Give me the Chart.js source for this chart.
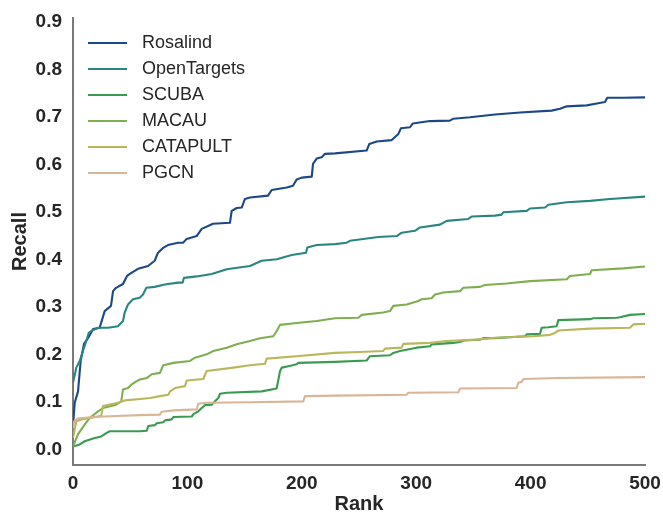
<!DOCTYPE html>
<html><head><meta charset="utf-8">
<script src="https://cdn.jsdelivr.net/npm/chart.js@4/dist/chart.umd.min.js"></script>
<style>html,body{margin:0;padding:0;background:#fff}#wrap{width:663px;height:514px}</style>
</head><body><div id="wrap"><canvas id="c" width="663" height="514"></canvas></div>
<script>
const seriesNames = ['Rosalind','OpenTargets','SCUBA','MACAU','CATAPULT','PGCN'];

const rosalindRank = [0,1.5,4.4,6.7,9.6,13.1,17.5,23.3,27.7,33.2,35,37.6,43.7,47.2,50.7,56.8,65.6,71.4,74.3,78.7,83,91.8,96.2,99.4,108.1,112.5,122.4,137.2,138.7,143.1,147.5,150.3,154.7,170.5,173.7,186.8,192.3,195.5,199.9,208.7,209.8,213,217.4,220.3,229,256.7,259,265.5,278.6,284.4,286.7,294.6,297,312,329.5,332.4,347,368.9,390.7,418.4,425.7,431.6,449,457.8,465,467,481,500];
const rosalindRecall = [0.05,0.098,0.122,0.186,0.222,0.234,0.253,0.256,0.291,0.302,0.333,0.340,0.348,0.365,0.371,0.380,0.386,0.397,0.414,0.424,0.430,0.435,0.435,0.443,0.449,0.464,0.475,0.477,0.502,0.508,0.509,0.527,0.530,0.534,0.546,0.551,0.555,0.568,0.572,0.574,0.601,0.612,0.615,0.622,0.623,0.629,0.643,0.648,0.651,0.664,0.676,0.678,0.686,0.691,0.692,0.696,0.699,0.705,0.709,0.713,0.717,0.722,0.724,0.728,0.731,0.740,0.740,0.741];

const openTargetsRank = [0,2.9,5.9,8.7,11.6,13.7,16,21.9,30.6,39.3,43.7,45.2,48.1,52.4,58.3,61.2,64.1,71.4,80.2,91.8,95.9,97,108.1,121.2,134.4,154.7,164.9,178.1,191.2,203.7,204.8,213,229,239.2,242.1,266.9,283,287.3,298.9,303.3,320.8,326.7,345.5,348.5,368.9,374.7,376.1,396.6,399.5,412.6,415.5,431.6,451.9,469.4,500];
const openTargetsRecall = [0.140,0.172,0.186,0.207,0.228,0.245,0.249,0.256,0.256,0.259,0.270,0.288,0.305,0.316,0.319,0.326,0.340,0.342,0.347,0.351,0.351,0.361,0.364,0.369,0.379,0.386,0.397,0.400,0.409,0.414,0.425,0.430,0.432,0.435,0.439,0.447,0.449,0.456,0.460,0.467,0.473,0.481,0.485,0.490,0.492,0.494,0.499,0.502,0.507,0.509,0.515,0.520,0.523,0.527,0.532];

const scubaRank = [0,5.7,10.2,19,24.7,29.1,32.1,58.6,64.4,65.8,71.7,73.2,78.9,80.4,86.3,87.7,103.8,105.2,109.5,112.5,115.4,121.2,124.1,127,128.5,134.4,165,178,181,182.4,188.2,195.5,196.9,229,256.7,259.6,277.1,280,285.8,300.4,312.1,313.5,332.4,338.3,341.2,355.8,358.7,368.9,395.1,396.6,408.2,409.7,415.5,422.8,424.2,451.9,454.8,475.3,478.1,486.9,500];
const scubaRecall = [0.006,0.010,0.017,0.024,0.027,0.034,0.038,0.038,0.039,0.049,0.051,0.055,0.057,0.061,0.063,0.068,0.069,0.074,0.080,0.087,0.093,0.094,0.101,0.108,0.117,0.119,0.122,0.128,0.165,0.172,0.175,0.179,0.182,0.184,0.187,0.196,0.198,0.203,0.207,0.214,0.217,0.221,0.224,0.226,0.229,0.231,0.234,0.234,0.238,0.242,0.243,0.256,0.257,0.259,0.272,0.274,0.276,0.277,0.278,0.283,0.285];

const macauRank = [0,4.4,10.2,14.6,21.9,26.2,37.8,42.2,43.7,48.1,51,55.3,58.6,64.4,68.8,76,78.9,87.7,102.3,106.6,116.9,122.6,134.4,143.1,154.7,163.5,175.1,178.1,180.9,195.5,213,229,249.4,252.4,271.2,277.1,280,291.7,301.8,304.8,313.5,316.4,323.7,338.3,341.2,355.8,360.1,379.1,399.5,431.6,434.4,451.9,453.4,481,500];
const macauRecall = [0.006,0.032,0.052,0.066,0.080,0.087,0.094,0.101,0.126,0.129,0.136,0.143,0.147,0.150,0.158,0.161,0.177,0.182,0.186,0.193,0.200,0.207,0.214,0.221,0.228,0.234,0.238,0.249,0.262,0.266,0.270,0.276,0.277,0.283,0.288,0.291,0.302,0.305,0.312,0.316,0.318,0.326,0.330,0.333,0.340,0.342,0.346,0.349,0.354,0.358,0.365,0.369,0.377,0.381,0.385];

const catapultRank = [0,2.9,7.3,24.7,26.2,39.3,45.2,58.6,67.3,76,83.3,84.8,89.2,97.9,99.4,113.9,116.9,140.1,154.7,167.8,169.3,195.5,229,250.9,271.2,272.7,287.3,288.7,312.1,326.7,352.9,368.9,402.4,417,421.3,424.2,451.9,486.9,489.8,500];
const catapultRecall = [0.024,0.059,0.063,0.070,0.091,0.098,0.103,0.106,0.108,0.112,0.115,0.122,0.129,0.133,0.145,0.148,0.165,0.172,0.177,0.180,0.191,0.196,0.203,0.205,0.207,0.212,0.214,0.222,0.224,0.228,0.231,0.235,0.238,0.241,0.245,0.250,0.254,0.256,0.263,0.264];

const pgcnRank = [0,1.1,4.1,17.2,37.6,58.6,76,77.5,87.7,108.1,109.5,116.9,154.7,201.3,202.8,229,291.7,293.1,336.8,338.3,387.8,389.2,392.2,393.6,422.8,500];
const pgcnRecall = [0.045,0.059,0.065,0.068,0.070,0.072,0.073,0.079,0.082,0.084,0.096,0.098,0.099,0.101,0.112,0.113,0.115,0.119,0.120,0.128,0.129,0.140,0.142,0.148,0.150,0.152];

const xTickValues = [0,100,200,300,400,500];
const xTickLabels = ['0','100','200','300','400','500'];
const yTickValues = [0,0.1,0.2,0.3,0.4,0.5,0.6,0.7,0.8,0.9];
const yTickLabels = ['0.0','0.1','0.2','0.3','0.4','0.5','0.6','0.7','0.8','0.9'];

const seriesRanks = [rosalindRank, openTargetsRank, scubaRank, macauRank, catapultRank, pgcnRank];
const seriesRecalls = [rosalindRecall, openTargetsRecall, scubaRecall, macauRecall, catapultRecall, pgcnRecall];
const seriesColors = ['#1b4886','#2a8580','#3a9a52','#7fae50','#b9b65c','#d8b596'];

const TXT = '#262626';
const FAMILY = "'Liberation Sans', Arial, sans-serif";
Chart.defaults.font.family = FAMILY;

function swatch(color) {
  const cv = document.createElement('canvas');
  cv.width = 45; cv.height = 4;
  const g = cv.getContext('2d');
  g.strokeStyle = color; g.lineWidth = 2;
  g.beginPath(); g.moveTo(0, 2); g.lineTo(39, 2); g.stroke();
  return cv;
}

const datasets = seriesNames.map((name, i) => ({
  label: name,
  data: seriesRanks[i].map((r, k) => ({x: r, y: seriesRecalls[i][k]})),
  borderColor: seriesColors[i],
  backgroundColor: seriesColors[i],
  borderWidth: 2.1,
  pointRadius: 0,
  tension: 0,
  fill: false,
  borderJoinStyle: 'round',
  order: seriesNames.length - i
}));

const legendShift = {
  id: 'legendShift',
  afterLayout(chart) {
    const l = chart.legend;
    if (!l) return;
    const ca = chart.chartArea;
    const w = l.width, h = l.height;
    l.left = ca.left + 7; l.right = l.left + w;
    l.top = ca.top + 8; l.bottom = l.top + h;
  }
};

function zeroPad(s) { s.paddingLeft = 0; s.paddingRight = 0; s.paddingTop = 0; s.paddingBottom = 0; }

new Chart(document.getElementById('c'), {
  type: 'line',
  data: { datasets },
  plugins: [legendShift],
  options: {
    responsive: false,
    devicePixelRatio: 1,
    animation: false,
    layout: { padding: { top: 18, right: 18, left: 0, bottom: 0 } },
    plugins: {
      tooltip: { enabled: false },
      legend: {
        position: 'chartArea',
        align: 'start',
        labels: {
          usePointStyle: true,
          pointStyleWidth: 45,
          padding: 8,
          color: TXT,
          font: { size: 18, family: FAMILY },
          generateLabels(chart) {
            return chart.data.datasets.map((ds, i) => ({
              text: ds.label,
              fillStyle: ds.borderColor,
              strokeStyle: ds.borderColor,
              lineWidth: 0,
              pointStyle: swatch(ds.borderColor),
              hidden: !chart.isDatasetVisible(i),
              datasetIndex: i,
              fontColor: TXT
            }));
          }
        }
      }
    },
    scales: {
      x: {
        type: 'linear',
        min: 0, max: 500,
        grid: { display: false, drawTicks: false },
        border: { display: true, color: '#7a7a7a', width: 2 },
        afterBuildTicks(s) { s.ticks = xTickValues.map(v => ({ value: v })); },
        afterFit(s) { s.height = 49; zeroPad(s); },
        ticks: {
          padding: 7,
          color: TXT,
          maxRotation: 0,
          font: { size: 19, weight: 'bold', family: FAMILY },
          callback: (v) => xTickLabels[xTickValues.indexOf(v)]
        },
        title: { display: true, text: 'Rank', color: TXT, font: { size: 20, weight: 'bold', family: FAMILY, lineHeight: 1.0 }, padding: { top: 0, bottom: 0 } }
      },
      y: {
        type: 'linear',
        min: -0.033, max: 0.908,
        grid: { display: false, drawTicks: false },
        border: { display: true, color: '#7a7a7a', width: 2 },
        afterBuildTicks(s) { s.ticks = yTickValues.map(v => ({ value: v })); },
        afterFit(s) { s.width = 73; zeroPad(s); },
        ticks: {
          padding: 11,
          color: TXT,
          font: { size: 19, weight: 'bold', family: FAMILY },
          callback: (v) => { const k = yTickValues.findIndex(t => Math.abs(t - v) < 1e-9); return k >= 0 ? yTickLabels[k] : ''; }
        },
        title: { display: true, text: 'Recall', color: TXT, font: { size: 20, weight: 'bold', family: FAMILY }, padding: { top: 8, bottom: 0 } }
      }
    }
  }
});
</script></body></html>
